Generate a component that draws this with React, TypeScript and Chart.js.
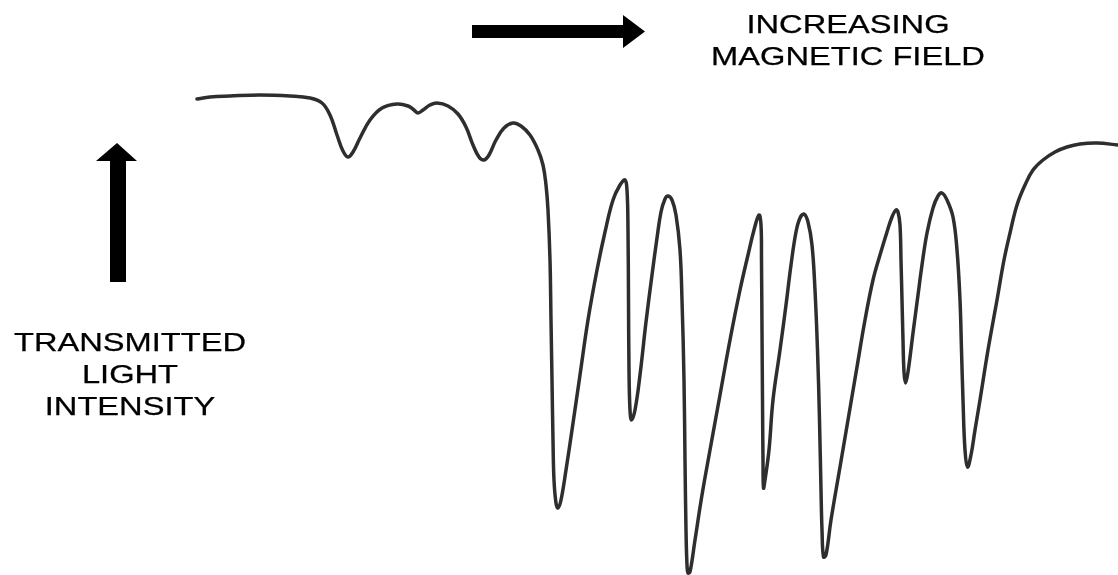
import React, { useEffect, useRef } from "react";
import { Chart, registerables } from "chart.js";

Chart.register(...registerables);

// Magnetic field (horizontal position) and absorption depth (downward) of the traced spectrum
const fieldValues: number[] = [
  197, 210, 230, 260, 290, 310, 322, 330, 337, 343, 348, 353, 360, 370, 382, 397, 408, 414, 418, 423,
  430, 437, 448, 458, 466, 473, 479, 484, 489, 496, 504, 513, 521, 530, 538, 543, 546, 548, 550, 551,
  552, 553, 554, 556, 558, 561, 566, 572, 580, 588, 597, 605, 613, 620, 625, 627, 628, 628.5, 629, 630,
  631.5, 635, 640, 646, 652, 657, 661, 665, 668, 672, 676, 680, 682, 684, 685, 686, 687, 688, 690, 695,
  702, 710, 720, 730, 740, 748, 754, 759, 761, 761.5, 762, 762.5, 763, 763.5, 765, 769, 773, 780, 786, 791,
  796, 800, 804, 808, 812, 815, 817.5, 819.5, 821, 822, 823.5, 826, 831, 840, 848, 857, 865, 873, 880, 887,
  892, 896, 898, 900, 901, 902, 903, 904, 905.5, 908, 913, 918, 922, 927, 933, 938, 942, 947, 953, 957,
  960, 961.5, 963, 965, 967.5, 971, 975, 980, 988, 997, 1004, 1010, 1017, 1025, 1033, 1043, 1055, 1067, 1080,
  1097, 1118,
];

const absorptionValues: number[] = [
  99, 97, 96, 95, 96, 98, 103, 115, 135, 151, 157, 152, 138, 120, 108, 104, 106, 110, 113, 110,
  105, 103, 106, 114, 127, 145, 157, 160, 155, 140, 128, 123, 126, 135, 150, 165, 185, 210, 260, 320,
  380, 440, 480, 503, 508, 500, 470, 430, 375, 320, 270, 232, 200, 185, 180, 190, 230, 300, 370, 410,
  420, 410, 375, 322, 275, 238, 212, 199, 196, 200, 215, 250, 300, 380, 460, 530, 565, 573, 572, 540,
  495, 450, 395, 340, 290, 255, 230, 215, 225, 260, 330, 400, 460, 488, 480, 450, 400, 350, 305, 265,
  232, 218, 214, 222, 245, 290, 350, 420, 490, 530, 557, 555, 520, 467, 420, 367, 320, 280, 255, 232,
  217, 210, 212, 225, 260, 300, 340, 372, 383, 372, 333, 295, 265, 233, 208, 196, 193, 200, 217, 250,
  300, 350, 400, 450, 467, 455, 430, 400, 350, 300, 260, 233, 205, 185, 170, 160, 152, 147, 144,
  143, 145,
];

const topLabelLines: string[] = ["INCREASING", "MAGNETIC FIELD"];
const leftLabelLines: string[] = ["TRANSMITTED", "LIGHT", "INTENSITY"];

const W = 1118;
const H = 575;

const arrowPlugin = {
  id: "arrows",
  afterDraw(chart: any) {
    const ctx = chart.ctx;
    ctx.save();
    ctx.fillStyle = "#000";
    // horizontal arrow (increasing field)
    ctx.beginPath();
    ctx.moveTo(472, 25);
    ctx.lineTo(623, 25);
    ctx.lineTo(623, 15);
    ctx.lineTo(645, 31.5);
    ctx.lineTo(623, 48);
    ctx.lineTo(623, 38);
    ctx.lineTo(472, 38);
    ctx.closePath();
    ctx.fill();
    // vertical arrow (transmitted intensity)
    ctx.beginPath();
    ctx.moveTo(110, 282);
    ctx.lineTo(110, 161);
    ctx.lineTo(96, 161);
    ctx.lineTo(117, 143);
    ctx.lineTo(137, 161);
    ctx.lineTo(126, 161);
    ctx.lineTo(126, 282);
    ctx.closePath();
    ctx.fill();
    ctx.restore();
  },
};

export default function App() {
  const canvasRef = useRef<HTMLCanvasElement | null>(null);

  useEffect(() => {
    document.body.style.margin = "0";
    const canvas = canvasRef.current;
    if (!canvas) return;
    const points = fieldValues.map((x, i) => ({ x, y: absorptionValues[i] }));
    const chart = new Chart(canvas, {
      type: "line",
      data: {
        datasets: [
          {
            data: points,
            borderColor: "#2e2e2e",
            borderWidth: 3.5,
            pointRadius: 0,
            fill: false,
            tension: 0.4,
            borderCapStyle: "round",
            borderJoinStyle: "round",
            clip: false as any,
          },
        ],
      },
      options: {
        animation: false,
        responsive: false,
        maintainAspectRatio: false,
        layout: { padding: 0 },
        plugins: { legend: { display: false }, tooltip: { enabled: false } },
        scales: {
          x: { type: "linear", min: 0, max: W, display: false },
          y: { type: "linear", min: 0, max: H, reverse: true, display: false },
        },
      },
      plugins: [arrowPlugin],
    });
    return () => chart.destroy();
  }, []);

  const textStyle: React.CSSProperties = {
    position: "absolute",
    fontFamily: "'Liberation Sans', Arial, sans-serif",
    fontSize: 25.5,
    lineHeight: "32px",
    color: "#000",
    textAlign: "center",
    transform: "scaleX(1.28)",
    transformOrigin: "center",
    whiteSpace: "nowrap",
    WebkitTextStroke: "0.25px #000",
  };

  return (
    <div style={{ position: "relative", width: W, height: H, background: "#fff" }}>
      <canvas ref={canvasRef} width={W} height={H} style={{ display: "block" }} />
      <div style={{ ...textStyle, left: 848 - 200, width: 400, top: 8 }}>
        {topLabelLines.map((t) => (
          <div key={t}>{t}</div>
        ))}
      </div>
      <div style={{ ...textStyle, left: 130 - 150, width: 300, top: 326 }}>
        {leftLabelLines.map((t) => (
          <div key={t}>{t}</div>
        ))}
      </div>
    </div>
  );
}
